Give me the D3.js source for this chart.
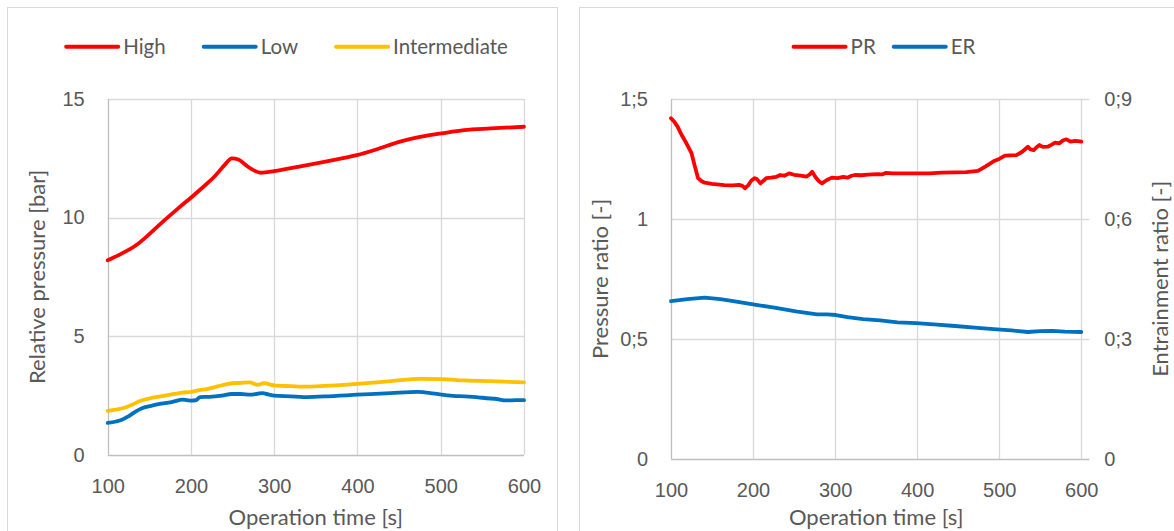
<!DOCTYPE html>
<html>
<head>
<meta charset="utf-8">
<script src="https://cdnjs.cloudflare.com/ajax/libs/d3/7.8.5/d3.min.js"></script>
<style>
  body { margin: 0; background: #fff; }
  svg { display: block; font-family: Lato, "Open Sans", sans-serif; }
</style>
</head>
<body>
<svg id="chart" width="1174" height="531"></svg>
<script>
// time axis ticks (shared by both panels)
const timeTicks = [100, 200, 300, 400, 500, 600];
const pressureTicks = [0, 5, 10, 15];
const prTicks = [0, 0.5, 1, 1.5];
const prTickLabels = ['0', '0;5', '1', '1;5'];
const erTicks = [0, 0.3, 0.6, 0.9];
const erTickLabels = ['0', '0;3', '0;6', '0;9'];

// left panel: relative pressure [bar], [time, value]
const highSeries = [[100, 8.2], [115, 8.45], [134, 8.83], [150, 9.3], [166, 9.82], [185, 10.4], [201, 10.87],
  [215, 11.3], [228, 11.72], [240, 12.2], [249, 12.5], [257, 12.45], [266, 12.21], [275, 12.0], [284, 11.89],
  [300, 11.96], [330, 12.15], [360, 12.35], [399, 12.63], [425, 12.9], [451, 13.2], [475, 13.4], [501, 13.55],
  [528, 13.69], [560, 13.76], [600, 13.83]];

const lowSeries = [[100, 1.34], [110, 1.4], [117, 1.47], [125, 1.62], [134, 1.83], [142, 1.97], [152, 2.06],
  [164, 2.15], [178, 2.23], [190, 2.32], [195, 2.3], [201, 2.28], [206, 2.3], [211, 2.43], [222, 2.44],
  [237, 2.49], [249, 2.56], [260, 2.56], [271, 2.53], [280, 2.57], [286, 2.6], [293, 2.54], [300, 2.49],
  [320, 2.46], [335, 2.43], [360, 2.46], [400, 2.53], [440, 2.6], [472, 2.65], [490, 2.59], [501, 2.53],
  [515, 2.48], [528, 2.46], [545, 2.42], [555, 2.38], [565, 2.36], [579, 2.29], [590, 2.3], [600, 2.3]];

const intermediateSeries = [[100, 1.85], [110, 1.9], [121, 1.99], [130, 2.12], [138, 2.25], [150, 2.37],
  [164, 2.46], [180, 2.56], [190, 2.62], [201, 2.65], [210, 2.72], [219, 2.77], [232, 2.88], [245, 2.99],
  [260, 3.03], [271, 3.05], [275, 3.0], [280, 2.95], [288, 3.02], [295, 2.96], [300, 2.92], [320, 2.89],
  [335, 2.87], [360, 2.9], [400, 2.99], [440, 3.1], [476, 3.2], [501, 3.19], [528, 3.13], [560, 3.1], [600, 3.05]];

// right panel: pressure ratio (left axis) and entrainment ratio (right axis)
const prSeries = [[100, 1.42], [104, 1.405], [108, 1.385], [113, 1.35], [118, 1.32], [125, 1.274], [129, 1.22],
  [133, 1.17], [137, 1.158], [141, 1.151], [150, 1.146], [165, 1.141], [175, 1.14], [183, 1.142], [187, 1.138],
  [190, 1.128], [194, 1.14], [198, 1.16], [202, 1.17], [205, 1.165], [209, 1.148], [213, 1.16], [216, 1.17],
  [222, 1.172], [228, 1.175], [233, 1.183], [238, 1.18], [244, 1.19], [250, 1.184], [258, 1.18], [265, 1.176],
  [269, 1.185], [272, 1.197], [276, 1.175], [280, 1.158], [284, 1.148], [290, 1.162], [296, 1.172], [303, 1.17],
  [310, 1.175], [315, 1.172], [320, 1.18], [324, 1.183], [332, 1.182], [340, 1.185], [352, 1.187], [358, 1.186],
  [362, 1.192], [370, 1.19], [385, 1.19], [399, 1.19], [415, 1.19], [430, 1.193], [446, 1.194], [460, 1.195],
  [474, 1.2], [483, 1.218], [493, 1.24], [500, 1.25], [507, 1.264], [514, 1.265], [521, 1.266], [528, 1.28],
  [535, 1.301], [538, 1.29], [542, 1.287], [546, 1.3], [549, 1.308], [553, 1.3], [559, 1.301], [564, 1.31],
  [568, 1.318], [573, 1.315], [578, 1.328], [582, 1.332], [587, 1.322], [592, 1.325], [596, 1.324], [600, 1.322]];

const erSeries = [[100, 0.394], [120, 0.399], [141, 0.403], [160, 0.399], [174, 0.395], [200, 0.386],
  [226, 0.378], [254, 0.368], [278, 0.361], [290, 0.361], [301, 0.3595], [315, 0.354], [334, 0.349],
  [355, 0.346], [376, 0.341], [399, 0.339], [420, 0.336], [446, 0.332], [470, 0.328], [493, 0.324],
  [515, 0.321], [535, 0.317], [550, 0.319], [564, 0.32], [580, 0.318], [600, 0.317]];

const textColor = '#595959';
const gridColor = '#d9d9d9';
const axisColor = '#bfbfbf';

const svg = d3.select('#chart');

// chart area borders
svg.append('rect').attr('x', 7.5).attr('y', 7.5).attr('width', 550).attr('height', 540)
  .attr('fill', 'none').attr('stroke', gridColor);
svg.append('rect').attr('x', 579.5).attr('y', 7.5).attr('width', 610).attr('height', 540)
  .attr('fill', 'none').attr('stroke', gridColor);

const drawGrid = (g, x, y, yTicks, rightTicks) => {
  const [bottom, top] = y.range();
  const [left, right] = x.range();

  g.selectAll('.hgrid')
    .data(yTicks.filter(d => d !== 0))
    .join('line')
    .attr('x1', left).attr('x2', right + (rightTicks ? 8 : 0))
    .attr('y1', d => Math.round(y(d)) + 0.5).attr('y2', d => Math.round(y(d)) + 0.5)
    .attr('stroke', gridColor).attr('stroke-width', 1.3);

  g.selectAll('.vgrid')
    .data(timeTicks.filter(d => d !== 100))
    .join('line')
    .attr('x1', d => Math.round(x(d)) + 0.5).attr('x2', d => Math.round(x(d)) + 0.5)
    .attr('y1', top).attr('y2', bottom)
    .attr('stroke', gridColor).attr('stroke-width', 1.3);

  // axis lines
  g.append('line')
    .attr('x1', Math.round(left) + 0.5).attr('x2', Math.round(left) + 0.5)
    .attr('y1', top).attr('y2', bottom)
    .attr('stroke', axisColor).attr('stroke-width', 1.3);
  g.append('line')
    .attr('x1', left).attr('x2', right + (rightTicks ? 8 : 0))
    .attr('y1', Math.round(bottom) + 0.5).attr('y2', Math.round(bottom) + 0.5)
    .attr('stroke', axisColor).attr('stroke-width', 1.3);
};

const styleAxis = (sel) => {
  sel.select('.domain').remove();
  sel.selectAll('line').remove();
  sel.selectAll('text').attr('fill', textColor).style('font-size', '20px');
};

const drawLegend = (g, items, cx, cy, gap) => {
  const legend = g.append('g');
  let offset = 0;
  items.forEach(({ name, color }) => {
    const item = legend.append('g').attr('transform', `translate(${offset},0)`);
    item.append('line').attr('x1', 0).attr('x2', 52).attr('y1', 0).attr('y2', 0)
      .attr('stroke', color).attr('stroke-width', 4).attr('stroke-linecap', 'round');
    const label = item.append('text').attr('x', 57).attr('y', 0).attr('dy', '0.35em')
      .attr('fill', textColor).style('font-size', '20.5px').text(name);
    offset += 57 + label.node().getComputedTextLength() + gap;
  });
  const width = offset - gap;
  legend.attr('transform', `translate(${cx - width / 2},${cy})`);
};

const drawLine = (g, data, x, y, color, curve) => {
  g.append('path')
    .datum(data)
    .attr('fill', 'none')
    .attr('stroke', color)
    .attr('stroke-width', 3.8)
    .attr('stroke-linejoin', 'round')
    .attr('stroke-linecap', 'round')
    .attr('d', d3.line().x(([t]) => x(t)).y(([, v]) => y(v)).curve(curve));
};

// ---- left panel ----
{
  const g = svg.append('g');
  const x = d3.scaleLinear().domain([100, 600]).range([107.7, 524]);
  const y = d3.scaleLinear().domain([0, 15]).range([454.7, 99]);

  drawGrid(g, x, y, pressureTicks, false);

  g.append('g').attr('transform', `translate(0,${y(0)})`)
    .call(d3.axisBottom(x).tickValues(timeTicks).tickSize(0).tickPadding(24))
    .call(styleAxis);
  g.append('g').attr('transform', `translate(${x(100)},0)`)
    .call(d3.axisLeft(y).tickValues(pressureTicks).tickSize(0).tickPadding(23))
    .call(styleAxis);

  drawLine(g, intermediateSeries, x, y, '#FFC000', d3.curveMonotoneX);
  drawLine(g, lowSeries, x, y, '#0070C0', d3.curveMonotoneX);
  drawLine(g, highSeries, x, y, '#FF0000', d3.curveMonotoneX);

  g.append('text').attr('x', (x(100) + x(600)) / 2).attr('y', 517).attr('dy', '0.35em')
    .attr('text-anchor', 'middle').attr('fill', textColor).style('font-size', '22px')
    .text('Operation time [s]');
  g.append('text').attr('transform', `translate(37,${(y(0) + y(15)) / 2}) rotate(-90)`)
    .attr('dy', '0.35em').attr('text-anchor', 'middle').attr('fill', textColor).style('font-size', '22px')
    .text('Relative pressure [bar]');

  drawLegend(g, [
    { name: 'High', color: '#FF0000' },
    { name: 'Low', color: '#0070C0' },
    { name: 'Intermediate', color: '#FFC000' },
  ], 287, 46.7, 38);
}

// ---- right panel ----
{
  const g = svg.append('g');
  const x = d3.scaleLinear().domain([100, 600]).range([671, 1081.3]);
  const yPr = d3.scaleLinear().domain([0, 1.5]).range([458.7, 99]);
  const yEr = d3.scaleLinear().domain([0, 0.9]).range([458.7, 99]);

  drawGrid(g, x, yPr, prTicks, true);

  g.append('g').attr('transform', `translate(0,${yPr(0)})`)
    .call(d3.axisBottom(x).tickValues(timeTicks).tickSize(0).tickPadding(24))
    .call(styleAxis);
  g.append('g').attr('transform', `translate(${x(100)},0)`)
    .call(d3.axisLeft(yPr).tickValues(prTicks).tickSize(0).tickPadding(23)
      .tickFormat((d, i) => prTickLabels[i]))
    .call(styleAxis);
  g.append('g').attr('transform', `translate(${x(600)},0)`)
    .call(d3.axisRight(yEr).tickValues(erTicks).tickSize(0).tickPadding(23)
      .tickFormat((d, i) => erTickLabels[i]))
    .call(styleAxis);

  drawLine(g, erSeries, x, yEr, '#0070C0', d3.curveLinear);
  drawLine(g, prSeries, x, yPr, '#FF0000', d3.curveLinear);

  g.append('text').attr('x', (x(100) + x(600)) / 2).attr('y', 517).attr('dy', '0.35em')
    .attr('text-anchor', 'middle').attr('fill', textColor).style('font-size', '22px')
    .text('Operation time [s]');
  g.append('text').attr('transform', `translate(600,${(yPr(0) + yPr(1.5)) / 2}) rotate(-90)`)
    .attr('dy', '0.35em').attr('text-anchor', 'middle').attr('fill', textColor).style('font-size', '22px')
    .text('Pressure ratio [-]');
  g.append('text').attr('transform', `translate(1160,${(yPr(0) + yPr(1.5)) / 2}) rotate(-90)`)
    .attr('dy', '0.35em').attr('text-anchor', 'middle').attr('fill', textColor).style('font-size', '22px')
    .text('Entrainment ratio [-]');

  drawLegend(g, [
    { name: 'PR', color: '#FF0000' },
    { name: 'ER', color: '#0070C0' },
  ], 884.5, 46.7, 18);
}
</script>
</body>
</html>
